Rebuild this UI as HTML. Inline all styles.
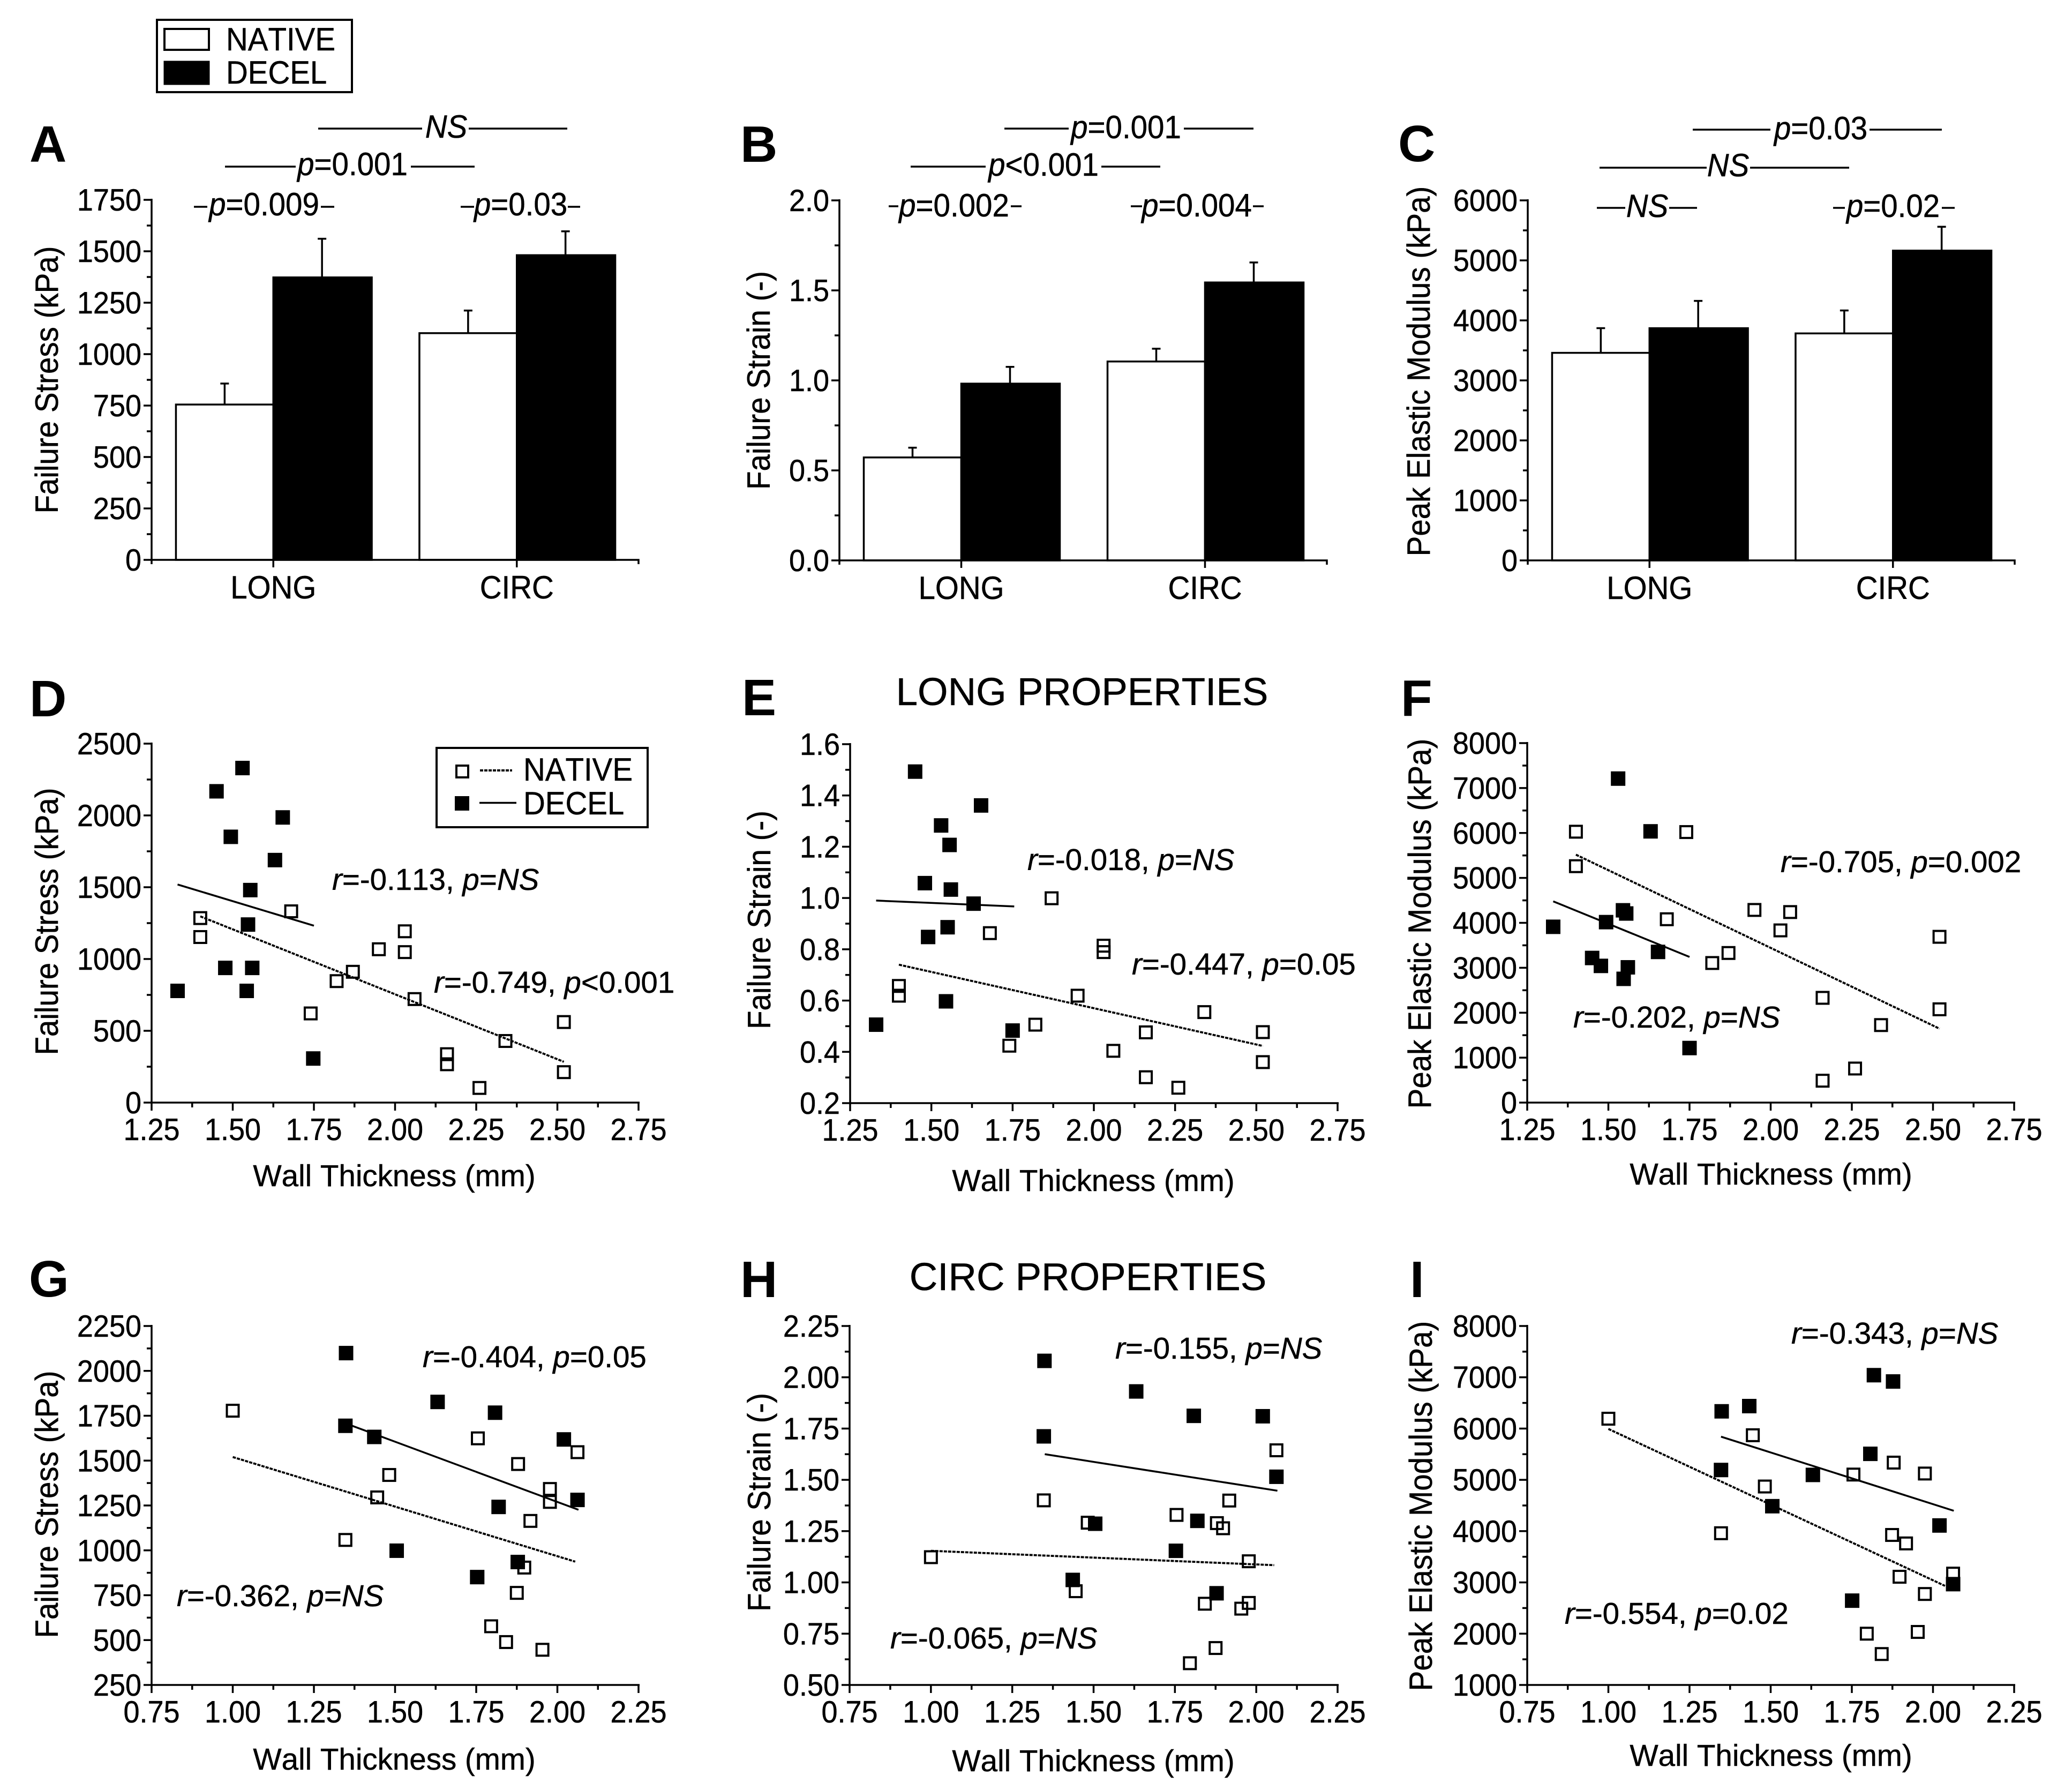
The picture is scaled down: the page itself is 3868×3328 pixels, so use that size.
<!DOCTYPE html>
<html lang="en">
<head>
<meta charset="utf-8">
<title>Native vs decellularized mechanical properties</title>
<style>
html,body{margin:0;padding:0;background:#fff}
svg{display:block}
text{font-family:"Liberation Sans",sans-serif;fill:#000;font-size:56.5px;font-kerning:none;stroke:#000;stroke-width:.5px}
.i{font-style:italic}
.letter{font-size:96px;font-weight:700;stroke:none}
.title{font-size:72.7px}
.tick{font-size:54px}
</style>
</head>
<body>
<svg id="figure" xmlns="http://www.w3.org/2000/svg" width="3868" height="3328" viewBox="0 0 3868 3328">
<rect width="3868" height="3328" fill="#fff"/>

<g>
<rect x="293" y="37" width="364" height="135" fill="#fff" stroke="#000" stroke-width="4"/>
<rect x="307" y="54" width="83" height="39" fill="#fff" stroke="#000" stroke-width="4"/>
<rect x="307" y="115" width="83" height="42" fill="#000" stroke="#000" stroke-width="3"/>
<text class="st" x="422" y="94">NATIVE</text>
<text class="st" x="422" y="156">DECEL</text>
</g>

<g>
<text class="letter" x="55" y="302">A</text>
<text class="letter" x="1382" y="302">B</text>
<text class="letter" x="2610" y="301">C</text>
<text class="letter" x="55" y="1337">D</text>
<text class="letter" x="1385" y="1335">E</text>
<text class="letter" x="2615" y="1336">F</text>
<text class="letter" x="54" y="2420">G</text>
<text class="letter" x="1382" y="2421">H</text>
<text class="letter" x="2632" y="2421">I</text>
</g>

<text class="title" x="2020" y="1316" text-anchor="middle">LONG PROPERTIES</text>
<text class="title" x="2031" y="2408" text-anchor="middle">CIRC PROPERTIES</text>

<g>
<text class="st" text-anchor="middle" transform="translate(108 709) rotate(-90)">Failure Stress (kPa)</text>
<text class="st" text-anchor="middle" transform="translate(1437 710) rotate(-90)">Failure Strain (-)</text>
<text class="st" text-anchor="middle" transform="translate(2669 693) rotate(-90)">Peak Elastic Modulus (kPa)</text>
<text class="st" text-anchor="middle" transform="translate(108 1720) rotate(-90)">Failure Stress (kPa)</text>
<text class="st" text-anchor="middle" transform="translate(1438 1717) rotate(-90)">Failure Strain (-)</text>
<text class="st" text-anchor="middle" transform="translate(2671 1724) rotate(-90)">Peak Elastic Modulus (kPa)</text>
<text class="st" text-anchor="middle" transform="translate(108 2808) rotate(-90)">Failure Stress (kPa)</text>
<text class="st" text-anchor="middle" transform="translate(1438 2804) rotate(-90)">Failure Strain (-)</text>
<text class="st" text-anchor="middle" transform="translate(2673 2811) rotate(-90)">Peak Elastic Modulus (kPa)</text>
</g>

<g>
<text x="736" y="2214" text-anchor="middle">Wall Thickness (mm)</text>
<text x="2041" y="2223" text-anchor="middle">Wall Thickness (mm)</text>
<text x="3306" y="2211" text-anchor="middle">Wall Thickness (mm)</text>
<text x="736" y="3303" text-anchor="middle">Wall Thickness (mm)</text>
<text x="2041" y="3306" text-anchor="middle">Wall Thickness (mm)</text>
<text x="3306" y="3296" text-anchor="middle">Wall Thickness (mm)</text>
</g>

<g>
<path fill="none" stroke="#000" stroke-width="3.5" d="M594 240H788M875 240H1059M420 311H552M767 311H886M362 386H387M599 386H624M860 386H885M1060 386H1083
M1875 240H1995M2210 240H2340M1700 311H1840M2056 311H2166M1659 385H1677M1887 385H1907M2111 385H2132M2339 385H2359
M3160 242H3305M3490 242H3625M2986 313H3186M3267 313H3452M2981 388H3034M3116 388H3168M3422 388H3444M3625 388H3649"/>
<text class="st" x="833" y="257" text-anchor="middle"><tspan class="i">NS</tspan></text>
<text class="st" x="658" y="327" text-anchor="middle"><tspan class="i">p</tspan>=0.001</text>
<text class="st" x="493" y="402" text-anchor="middle"><tspan class="i">p</tspan>=0.009</text>
<text class="st" x="972" y="402" text-anchor="middle"><tspan class="i">p</tspan>=0.03</text>
<text class="st" x="2102" y="258" text-anchor="middle"><tspan class="i">p</tspan>=0.001</text>
<text class="st" x="1948" y="328" text-anchor="middle"><tspan class="i">p</tspan>&lt;0.001</text>
<text class="st" x="1781" y="404" text-anchor="middle"><tspan class="i">p</tspan>=0.002</text>
<text class="st" x="2234" y="404" text-anchor="middle"><tspan class="i">p</tspan>=0.004</text>
<text class="st" x="3399" y="260" text-anchor="middle"><tspan class="i">p</tspan>=0.03</text>
<text class="st" x="3226" y="329" text-anchor="middle"><tspan class="i">NS</tspan></text>
<text class="st" x="3075" y="405" text-anchor="middle"><tspan class="i">NS</tspan></text>
<text class="st" x="3534" y="405" text-anchor="middle"><tspan class="i">p</tspan>=0.02</text>
</g>

<g>
<text x="620" y="1661"><tspan class="i">r</tspan>=-0.113, <tspan class="i">p</tspan>=<tspan class="i">NS</tspan></text>
<text x="810" y="1853"><tspan class="i">r</tspan>=-0.749, <tspan class="i">p</tspan>&lt;0.001</text>
<text x="1918" y="1624"><tspan class="i">r</tspan>=-0.018, <tspan class="i">p</tspan>=<tspan class="i">NS</tspan></text>
<text x="2113" y="1819"><tspan class="i">r</tspan>=-0.447, <tspan class="i">p</tspan>=0.05</text>
<text x="3324" y="1628"><tspan class="i">r</tspan>=-0.705, <tspan class="i">p</tspan>=0.002</text>
<text x="2937" y="1918"><tspan class="i">r</tspan>=-0.202, <tspan class="i">p</tspan>=<tspan class="i">NS</tspan></text>
<text x="789" y="2552"><tspan class="i">r</tspan>=-0.404, <tspan class="i">p</tspan>=0.05</text>
<text x="330" y="2998"><tspan class="i">r</tspan>=-0.362, <tspan class="i">p</tspan>=<tspan class="i">NS</tspan></text>
<text x="2082" y="2536"><tspan class="i">r</tspan>=-0.155, <tspan class="i">p</tspan>=<tspan class="i">NS</tspan></text>
<text x="1662" y="3077"><tspan class="i">r</tspan>=-0.065, <tspan class="i">p</tspan>=<tspan class="i">NS</tspan></text>
<text x="3344" y="2508"><tspan class="i">r</tspan>=-0.343, <tspan class="i">p</tspan>=<tspan class="i">NS</tspan></text>
<text x="2921" y="3031"><tspan class="i">r</tspan>=-0.554, <tspan class="i">p</tspan>=0.02</text>
</g>

<g>
<rect x="815" y="1396" width="394" height="148" fill="#fff" stroke="#000" stroke-width="4"/>
<rect x="852" y="1429" width="22" height="22" fill="#fff" stroke="#000" stroke-width="4"/>
<line x1="896" y1="1438" x2="956" y2="1438" stroke="#000" stroke-width="4" stroke-dasharray="6 2"/>
<text class="st" x="977" y="1457">NATIVE</text>
<rect x="849" y="1486" width="27" height="27" fill="#000"/>
<line x1="895" y1="1498.5" x2="964" y2="1498.5" stroke="#000" stroke-width="3.5"/>
<text class="st" x="977" y="1520">DECEL</text>
</g>

<g id="plots"></g>
</svg>

<script>
// ---- Bar chart data (categories, group means, error tops) ----
const barCategories = ['LONG', 'CIRC'];

const ticksA = ['0', '250', '500', '750', '1000', '1250', '1500', '1750'];
const nativeMeansA = [755, 1102];
const nativeErrorTopsA = [857, 1212];
const decelMeansA = [1373, 1481];
const decelErrorTopsA = [1561, 1597];

const ticksB = ['0.0', '0.5', '1.0', '1.5', '2.0'];
const nativeMeansB = [0.572, 1.105];
const nativeErrorTopsB = [0.626, 1.176];
const decelMeansB = [0.982, 1.544];
const decelErrorTopsB = [1.075, 1.655];

const ticksC = ['0', '1000', '2000', '3000', '4000', '5000', '6000'];
const nativeMeansC = [3459, 3783];
const nativeErrorTopsC = [3870, 4165];
const decelMeansC = [3870, 5163];
const decelErrorTopsC = [4325, 5560];

// ---- Scatter tick labels ----
const longThicknessTicks = ['1.25', '1.50', '1.75', '2.00', '2.25', '2.50', '2.75'];
const circThicknessTicks = ['0.75', '1.00', '1.25', '1.50', '1.75', '2.00', '2.25'];
const ticksD = ['0', '500', '1000', '1500', '2000', '2500'];
const ticksE = ['0.2', '0.4', '0.6', '0.8', '1.0', '1.2', '1.4', '1.6'];
const ticksF = ['0', '1000', '2000', '3000', '4000', '5000', '6000', '7000', '8000'];
const ticksG = ['250', '500', '750', '1000', '1250', '1500', '1750', '2000', '2250'];
const ticksH = ['0.50', '0.75', '1.00', '1.25', '1.50', '1.75', '2.00', '2.25'];
const ticksI = ['1000', '2000', '3000', '4000', '5000', '6000', '7000', '8000'];

// ---- Panel D: long failure stress ----
const nativeXD = [1.40, 1.40, 1.68, 1.74, 1.82, 1.87, 1.95, 2.03, 2.03, 2.06, 2.16, 2.16, 2.26, 2.34, 2.52, 2.52];
const nativeYD = [1285, 1153, 1332, 621, 846, 911, 1068, 1193, 1048, 721, 337, 267, 102, 429, 561, 212];
const decelXD = [1.33, 1.45, 1.477, 1.494, 1.53, 1.543, 1.547, 1.554, 1.56, 1.63, 1.654, 1.748];
const decelYD = [778, 2168, 938, 1851, 2330, 778, 1240, 1480, 938, 1689, 1986, 307];
const nativeTrendXD = [1.40, 2.52];
const nativeTrendYD = [1297, 284];
const decelTrendXD = [1.33, 1.75];
const decelTrendYD = [1519, 1232];

// ---- Panel E: long failure strain ----
const nativeXE = [1.40, 1.40, 1.68, 1.74, 1.82, 1.87, 1.95, 2.03, 2.03, 2.06, 2.16, 2.16, 2.26, 2.34, 2.52, 2.52];
const nativeYE = [0.657, 0.619, 0.863, 0.424, 0.506, 0.999, 0.619, 0.814, 0.789, 0.404, 0.476, 0.301, 0.26, 0.555, 0.477, 0.36];
const decelXE = [1.33, 1.45, 1.48, 1.49, 1.53, 1.545, 1.55, 1.556, 1.56, 1.63, 1.653, 1.75];
const decelYE = [0.506, 1.493, 1.058, 0.848, 1.283, 0.597, 0.886, 1.207, 1.033, 0.978, 1.361, 0.483];
const nativeTrendXE = [1.40, 2.52];
const nativeTrendYE = [0.74, 0.423];
const decelTrendXE = [1.33, 1.755];
const decelTrendYE = [0.99, 0.967];

// ---- Panel F: long peak modulus ----
const nativeXF = [1.40, 1.40, 1.68, 1.74, 1.82, 1.87, 1.95, 2.03, 2.06, 2.16, 2.16, 2.26, 2.34, 2.52, 2.52];
const nativeYF = [6028, 5261, 4080, 6020, 3106, 3329, 4287, 3832, 4240, 2331, 487, 758, 1725, 3689, 2076];
const decelXF = [1.33, 1.45, 1.477, 1.493, 1.53, 1.545, 1.547, 1.555, 1.56, 1.63, 1.653, 1.75];
const decelYF = [3912, 3218, 3042, 4016, 7210, 4279, 2754, 4208, 3010, 6036, 3353, 1214];
const nativeTrendXF = [1.40, 2.52];
const nativeTrendYF = [5517, 1645];
const decelTrendXF = [1.33, 1.75];
const decelTrendYF = [4479, 3241];

// ---- Panel G: circ failure stress ----
const nativeXG = [1.0, 1.347, 1.445, 1.482, 1.755, 1.796, 1.842, 1.875, 1.879, 1.898, 1.917, 1.954, 1.977, 1.977, 2.062];
const nativeYG = [1778, 1058, 1295, 1420, 1624, 577, 489, 763, 1481, 904, 1164, 446, 1342, 1270, 1547];
const decelXG = [1.349, 1.347, 1.436, 1.505, 1.631, 1.753, 1.808, 1.819, 1.878, 2.02, 2.062];
const decelYG = [2099, 1694, 1632, 998, 1827, 851, 1767, 1242, 935, 1618, 1281];
const nativeTrendXG = [1.0, 2.055];
const nativeTrendYG = [1520, 937];
const decelTrendXG = [1.35, 2.065];
const decelTrendYG = [1706, 1226];

// ---- Panel H: circ failure strain ----
const nativeXH = [1.0, 1.347, 1.445, 1.482, 1.755, 1.796, 1.842, 1.875, 1.879, 1.898, 1.917, 1.954, 1.977, 1.977, 2.062];
const nativeYH = [1.123, 1.40, 0.957, 1.291, 1.329, 0.606, 0.896, 0.68, 1.289, 1.264, 1.399, 0.872, 0.90, 1.103, 1.644];
const decelXH = [1.349, 1.347, 1.436, 1.505, 1.631, 1.753, 1.808, 1.819, 1.878, 2.02, 2.062];
const decelYH = [2.08, 1.712, 1.012, 1.286, 1.931, 1.154, 1.812, 1.30, 0.947, 1.81, 1.515];
const nativeTrendXH = [1.0, 2.055];
const nativeTrendYH = [1.154, 1.084];
const decelTrendXH = [1.35, 2.065];
const decelTrendYH = [1.625, 1.447];

// ---- Panel I: circ peak modulus ----
const nativeXI = [1.0, 1.347, 1.445, 1.482, 1.755, 1.796, 1.842, 1.874, 1.879, 1.897, 1.917, 1.953, 1.975, 1.975, 2.062];
const nativeYI = [6192, 3959, 5870, 4870, 5103, 2000, 1603, 3925, 5336, 3110, 3760, 2034, 5123, 2774, 3171];
const decelXI = [1.349, 1.347, 1.434, 1.505, 1.63, 1.751, 1.807, 1.818, 1.877, 2.02, 2.062];
const decelYI = [6336, 5192, 6438, 4486, 5096, 2644, 5507, 7041, 6918, 4110, 2966];
const nativeTrendXI = [1.0, 2.037];
const nativeTrendYI = [5993, 2932];
const decelTrendXI = [1.347, 2.064];
const decelTrendYI = [5842, 4397];

// ---- Drawing ----
const SVG_NS = 'http://www.w3.org/2000/svg';
const plots = document.getElementById('plots');

function make(tag, attrs, parent) {
  const node = document.createElementNS(SVG_NS, tag);
  for (const key in attrs) node.setAttribute(key, attrs[key]);
  parent.appendChild(node);
  return node;
}

function scale(d0, d1, r0, r1) {
  return function (v) { return r0 + (v - d0) * (r1 - r0) / (d1 - d0); };
}

function drawYAxis(group, frame, labels, y) {
  const axis = make('line', {x1: frame.l, y1: frame.t - 2, x2: frame.l, y2: frame.b + 2, stroke: '#000', 'stroke-width': 3.5}, group);
  
  
  labels.forEach(function (label, i) {
    const v = Number(label);
    const tick = make('line', {x1: frame.l - 15, y1: y(v), x2: frame.l, y2: y(v), stroke: '#000', 'stroke-width': 3.5}, group);
    
    
    const text = make('text', {x: frame.l - 19, y: y(v) + 20, 'text-anchor': 'end', class: 'tick st'}, group);
    text.textContent = label;
    
    
    if (i < labels.length - 1) {
      const m = (v + Number(labels[i + 1])) / 2;
      const minor = make('line', {x1: frame.l - 9, y1: y(m), x2: frame.l, y2: y(m), stroke: '#000', 'stroke-width': 3.5}, group);
      
      
    }
  });
}

function drawBarPanel(name, frame, labels, nativeMeans, nativeTops, decelMeans, decelTops) {
  const group = make('g', {}, plots);
  
  
  const top = Number(labels[labels.length - 1]);
  const y = scale(Number(labels[0]), top, frame.b, frame.t);
  const width = frame.r - frame.l;
  const catX = function (i) { return frame.l + width * (i + 0.5) / barCategories.length; };
  const barW = width * 0.2;

  barCategories.forEach(function (cat, i) {
    const cx = catX(i);
    const nativeErr = make('path', {d: 'M' + (cx - barW / 2) + ' ' + y(nativeMeans[i]) + 'V' + y(nativeTops[i]) + 'm-8 0h16', stroke: '#000', 'stroke-width': 3.5, fill: 'none'}, group);
    
    
    const decelErr = make('path', {d: 'M' + (cx + barW / 2) + ' ' + y(decelMeans[i]) + 'V' + y(decelTops[i]) + 'm-8 0h16', stroke: '#000', 'stroke-width': 3.5, fill: 'none'}, group);
    
    
    const nativeBar = make('rect', {x: cx - barW, y: y(nativeMeans[i]), width: barW, height: y(0) - y(nativeMeans[i]), fill: '#fff', stroke: '#000', 'stroke-width': 3.5}, group);
    
    
    const decelBar = make('rect', {x: cx, y: y(decelMeans[i]), width: barW + 2, height: y(0) - y(decelMeans[i]), fill: '#000', stroke: '#000', 'stroke-width': 3.5}, group);
    
    
    const tick = make('line', {x1: cx, y1: frame.b, x2: cx, y2: frame.b + 14, stroke: '#000', 'stroke-width': 3.5}, group);
    
    
    const label = make('text', {x: cx, y: frame.b + 72, 'text-anchor': 'middle', class: 'st'}, group);
    label.textContent = cat;
    
    
  });

  const xAxis = make('path', {d: 'M' + frame.l + ' ' + (frame.b + 8) + 'V' + frame.b + 'H' + frame.r + 'V' + (frame.b + 8), stroke: '#000', 'stroke-width': 3.5, fill: 'none'}, group);
  
  
  drawYAxis(group, frame, labels, y);
}

function drawScatterPanel(name, frame, xLabels, yLabels, nx, ny, dx, dy, ntx, nty, dtx, dty) {
  const group = make('g', {}, plots);
  
  
  const x = scale(Number(xLabels[0]), Number(xLabels[xLabels.length - 1]), frame.l, frame.r);
  const y = scale(Number(yLabels[0]), Number(yLabels[yLabels.length - 1]), frame.b, frame.t);

  const xAxis = make('line', {x1: frame.l - 2, y1: frame.b, x2: frame.r + 2, y2: frame.b, stroke: '#000', 'stroke-width': 3.5}, group);
  
  
  xLabels.forEach(function (label, i) {
    const v = Number(label);
    const tick = make('line', {x1: x(v), y1: frame.b, x2: x(v), y2: frame.b + 15, stroke: '#000', 'stroke-width': 3.5}, group);
    
    
    const text = make('text', {x: x(v), y: frame.b + 70, 'text-anchor': 'middle', class: 'tick st'}, group);
    text.textContent = label;
    
    
    if (i < xLabels.length - 1) {
      const m = (v + Number(xLabels[i + 1])) / 2;
      const minor = make('line', {x1: x(m), y1: frame.b, x2: x(m), y2: frame.b + 9, stroke: '#000', 'stroke-width': 3.5}, group);
      
      
    }
  });
  drawYAxis(group, frame, yLabels, y);

  const nativeTrend = make('line', {x1: x(ntx[0]), y1: y(nty[0]), x2: x(ntx[1]), y2: y(nty[1]), stroke: '#000', 'stroke-width': 3.8, 'stroke-dasharray': '6 2'}, group);
  
  
  const decelTrend = make('line', {x1: x(dtx[0]), y1: y(dty[0]), x2: x(dtx[1]), y2: y(dty[1]), stroke: '#000', 'stroke-width': 3.5}, group);
  
  

  nx.forEach(function (xv, i) {
    const p = make('rect', {x: x(xv) - 11, y: y(ny[i]) - 11, width: 22, height: 22, fill: 'none', stroke: '#000', 'stroke-width': 4}, group);
    
    
  });
  dx.forEach(function (xv, i) {
    const p = make('rect', {x: x(xv) - 13.5, y: y(dy[i]) - 13.5, width: 27, height: 27, fill: '#000'}, group);
    
    
  });
}

drawBarPanel('a', {l: 283, r: 1192, t: 373, b: 1045}, ticksA, nativeMeansA, nativeErrorTopsA, decelMeansA, decelErrorTopsA);
drawBarPanel('b', {l: 1567, r: 2477, t: 374, b: 1046}, ticksB, nativeMeansB, nativeErrorTopsB, decelMeansB, decelErrorTopsB);
drawBarPanel('c', {l: 2852, r: 3761, t: 374, b: 1046}, ticksC, nativeMeansC, nativeErrorTopsC, decelMeansC, decelErrorTopsC);

drawScatterPanel('d', {l: 283, r: 1192, t: 1388, b: 2058}, longThicknessTicks, ticksD, nativeXD, nativeYD, decelXD, decelYD, nativeTrendXD, nativeTrendYD, decelTrendXD, decelTrendYD);
drawScatterPanel('e', {l: 1587, r: 2497, t: 1389, b: 2059}, longThicknessTicks, ticksE, nativeXE, nativeYE, decelXE, decelYE, nativeTrendXE, nativeTrendYE, decelTrendXE, decelTrendYE);
drawScatterPanel('f', {l: 2851, r: 3760, t: 1387, b: 2058}, longThicknessTicks, ticksF, nativeXF, nativeYF, decelXF, decelYF, nativeTrendXF, nativeTrendYF, decelTrendXF, decelTrendYF);
drawScatterPanel('g', {l: 283, r: 1192, t: 2475, b: 3145}, circThicknessTicks, ticksG, nativeXG, nativeYG, decelXG, decelYG, nativeTrendXG, nativeTrendYG, decelTrendXG, decelTrendYG);
drawScatterPanel('h', {l: 1586, r: 2497, t: 2475, b: 3145}, circThicknessTicks, ticksH, nativeXH, nativeYH, decelXH, decelYH, nativeTrendXH, nativeTrendYH, decelTrendXH, decelTrendYH);
drawScatterPanel('i', {l: 2851, r: 3760, t: 2475, b: 3145}, circThicknessTicks, ticksI, nativeXI, nativeYI, decelXI, decelYI, nativeTrendXI, nativeTrendYI, decelTrendXI, decelTrendYI);

// The reference glyphs are slightly taller than they are wide: stretch perpendicular to the baseline.
const glyphStretch = 1.06;
document.querySelectorAll('text.st').forEach(function (t) {
  const existing = t.getAttribute('transform');
  if (existing) {
    t.setAttribute('transform', existing + ' scale(1 ' + glyphStretch + ')');
  } else {
    const px = t.getAttribute('x');
    const py = t.getAttribute('y');
    t.removeAttribute('x');
    t.removeAttribute('y');
    t.setAttribute('transform', 'translate(' + px + ' ' + py + ') scale(1 ' + glyphStretch + ')');
  }
});
</script>
</body>
</html>
